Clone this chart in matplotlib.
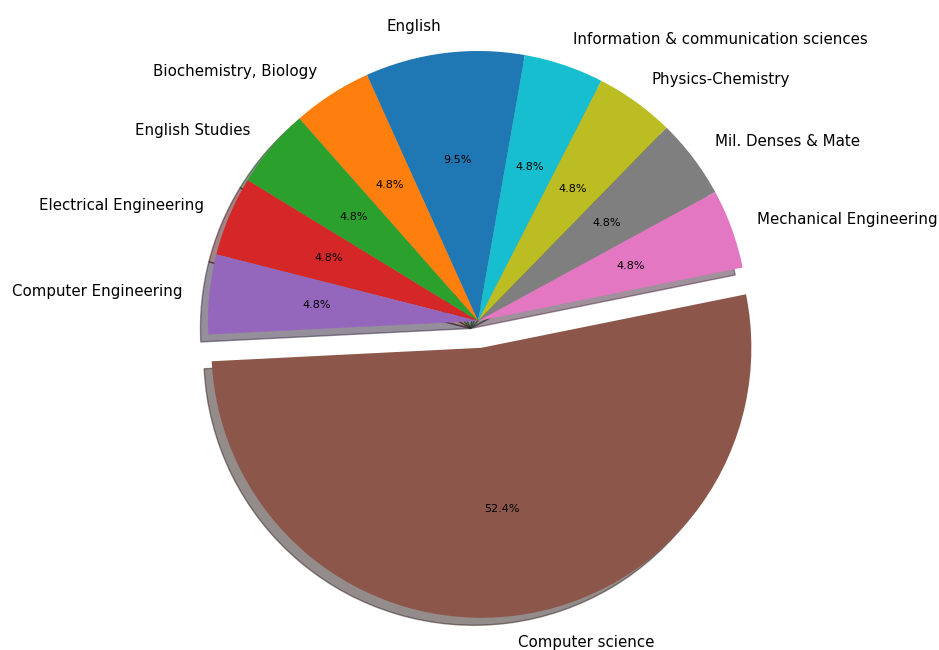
import matplotlib
matplotlib.use("Agg")
import matplotlib.pyplot as plt

# Данные (число записей по специальности)
labels = ["English", "Biochemistry, Biology", "English Studies",
          "Electrical Engineering", "Computer Engineering", "Computer science",
          "Mechanical Engineering", "Mil. Denses & Mate", "Physics-Chemistry",
          "Information & communication sciences"]
counts = [2, 1, 1, 1, 1, 11, 1, 1, 1, 1]
explode = [0, 0, 0, 0, 0, 0.1, 0, 0, 0, 0]

fig = plt.figure(figsize=(9.39, 6.5), dpi=100)
ax = fig.add_axes([0, 0, 1, 1])

ax.pie(counts, labels=labels, explode=explode, autopct='%1.1f%%',
       shadow=True, startangle=80,
       textprops={'fontsize': 10.8})
for t in ax.texts:
    if t.get_text().endswith('%'):
        t.set_fontsize(8)

# масштаб: радиус ~270 px, центр ~(478, 321)
r = 270.0
cx, cy = 478.0, 321.0
ax.set_xlim(-cx / r, (939 - cx) / r)
ax.set_ylim(-(650 - cy) / r, cy / r)
ax.set_aspect('equal')
ax.axis('off')

fig.savefig("out.png", dpi=100)
